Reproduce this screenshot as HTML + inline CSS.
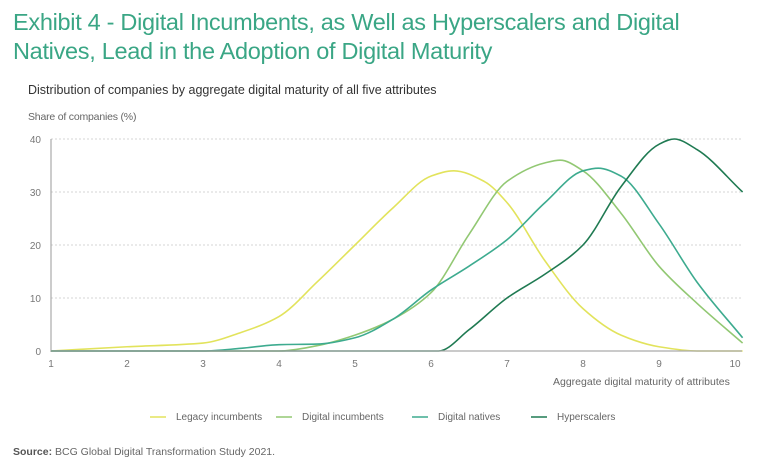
<!DOCTYPE html>
<html><head><meta charset="utf-8"><style>
body{margin:0;background:#fff;width:768px;height:472px;overflow:hidden;font-family:"Liberation Sans",sans-serif;}
.t{position:absolute;white-space:nowrap;}
#title{left:13px;top:8px;font-size:23.5px;line-height:29px;color:#3aa685;letter-spacing:-0.3px;}
#sub{left:28px;top:83px;font-size:12.5px;color:#333;letter-spacing:0px;}
#ylab{left:28px;top:111px;font-size:10.5px;color:#666;letter-spacing:-0.2px;}
#xlab{left:553px;top:376px;font-size:10.5px;color:#666;letter-spacing:0px;}
#src{left:13px;top:446px;font-size:10.5px;color:#666;letter-spacing:0px;}
#src b{color:#555;}
svg{position:absolute;left:0;top:0;}
</style></head><body>
<div class="t" id="title">Exhibit 4 - Digital Incumbents, as Well as Hyperscalers and Digital<br>Natives, Lead in the Adoption of Digital Maturity</div>
<div class="t" id="sub">Distribution of companies by aggregate digital maturity of all five attributes</div>
<div class="t" id="ylab">Share of companies (%)</div>
<div class="t" id="xlab">Aggregate digital maturity of attributes</div>
<div class="t" id="src"><b>Source:</b> BCG Global Digital Transformation Study 2021.</div>
<svg id="chart" width="768" height="472"></svg>
<script>
const xTicks=[1,2,3,4,5,6,7,8,9,10];
const yTicks=[0,10,20,30,40];
const seriesNames=["Legacy incumbents","Digital incumbents","Digital natives","Hyperscalers"];
const legacyX=[1,2,3,3.5,4,4.5,5,5.5,6,6.3,6.7,7,7.5,8,8.5,9,9.5,10.1];
const legacyY=[0,0.8,1.5,3.5,6.5,13,20,27,33,34,32,28,17,8,3,0.8,0,0];
const incumbX=[1,4,4.5,5,5.5,6,6.5,7,7.5,7.7,8,8.5,9,9.5,10.1];
const incumbY=[0,0,1,3,6,11,22,32,35.5,36,34,26,16,9,1.5];
const nativesX=[1,3,3.5,4,4.5,5,5.5,6,6.5,7,7.5,8,8.2,8.5,9,9.5,10.1];
const nativesY=[0,0,0.5,1.2,1.3,2.5,6,11.5,16,21,28,34,34.5,33,24,13,2.5];
const hyperX=[1,6.1,6.5,7,7.5,8,8.5,9,9.2,9.5,10.1];
const hyperY=[0,0,4,10,14.5,20,31,39,40,38,30];
const colors=["#e2e35c","#92c873","#3dab8f","#1f7a52"];
const X0=51,X1=735,Y0=351,Y1=139;
const sx=v=>X0+(v-1)*(X1-X0)/9;
const sy=v=>Y0-v*(Y0-Y1)/40;
const svg=document.getElementById('chart');
const NS="http://www.w3.org/2000/svg";
function mk(t,a){const e=document.createElementNS(NS,t);for(const k in a)e.setAttribute(k,a[k]);svg.appendChild(e);return e;}
yTicks.forEach(v=>{
 if(v>0){const g=mk('line',{x1:X0,x2:742,y1:sy(v),y2:sy(v),stroke:'#d6d6d6','stroke-dasharray':'2,2','stroke-width':1});
 
 }
 const t=mk('text',{x:41,y:sy(v)+4,'text-anchor':'end','font-size':10,fill:'#777','font-family':'Liberation Sans'});t.textContent=v;
 
 
});
xTicks.forEach(v=>{
 const t=mk('text',{x:sx(v),y:367,'text-anchor':'middle','font-size':10,fill:'#777','font-family':'Liberation Sans'});t.textContent=v;
 
 
});
const ya=mk('line',{x1:X0,x2:X0,y1:139,y2:352,stroke:'#999','stroke-width':1});


function path(xs,ys){
 const px=xs.map(sx),py=ys.map(sy),n=px.length;
 const d=[],m=[];
 for(let i=0;i<n-1;i++)d.push((py[i+1]-py[i])/(px[i+1]-px[i]));
 for(let i=0;i<n;i++){
  if(i===0)m.push(d[0]);else if(i===n-1)m.push(d[n-2]);
  else if(d[i-1]*d[i]<=0)m.push(0);
  else{const h0=px[i]-px[i-1],h1=px[i+1]-px[i];const w1=2*h1+h0,w2=h1+2*h0;m.push((w1+w2)/(w1/d[i-1]+w2/d[i]));}
 }
 let s='M'+px[0]+','+py[0];
 for(let i=0;i<n-1;i++){
  const h=(px[i+1]-px[i])/3;
  s+=`C${px[i]+h},${py[i]+m[i]*h} ${px[i+1]-h},${py[i+1]-m[i+1]*h} ${px[i+1]},${py[i+1]}`;
 }
 return s;
}
const data=[[legacyX,legacyY],[incumbX,incumbY],[nativesX,nativesY],[hyperX,hyperY]];
const ids=['line-legacy-incumbents','line-digital-incumbents','line-digital-natives','line-hyperscalers'];
data.forEach((s,i)=>{
 const e=mk('path',{d:path(s[0],s[1]),fill:'none',stroke:colors[i],'stroke-width':1.6});
 
 
});
const xa=mk('line',{x1:X0,x2:742,y1:Y0,y2:Y0,stroke:'#aaa','stroke-width':1.2});


const lx=[150,276,412,531];
seriesNames.forEach((n,i)=>{
 const l=mk('line',{x1:lx[i],x2:lx[i]+16,y1:417,y2:417,stroke:colors[i],'stroke-width':1.5});
 
 
 const t=mk('text',{x:lx[i]+26,y:420,'font-size':10,fill:'#666','font-family':'Liberation Sans'});t.textContent=n;
 
 
});
</script>
</body></html>
